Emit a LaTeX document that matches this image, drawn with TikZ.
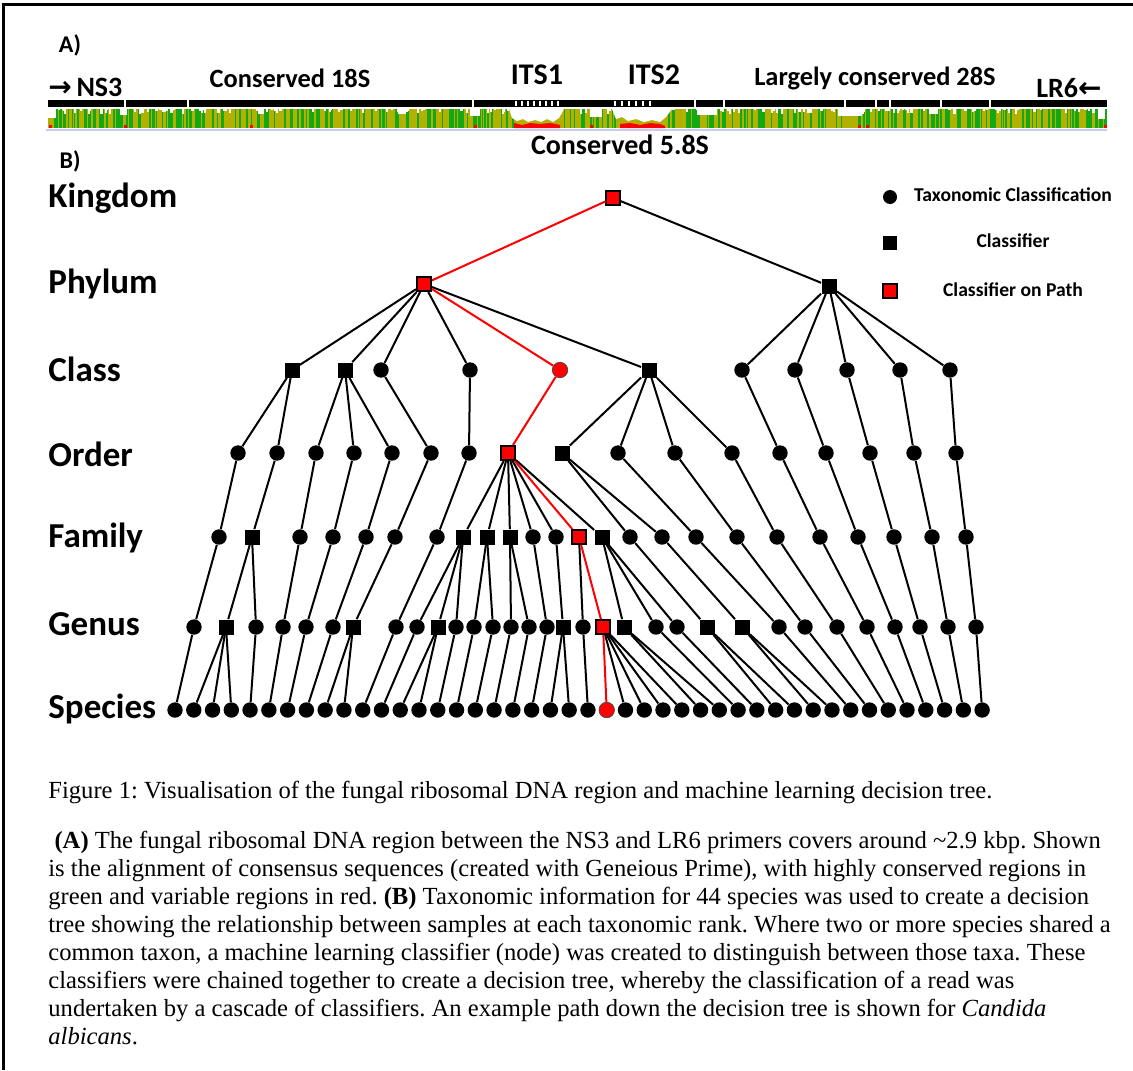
\documentclass[tikz,border=0pt]{standalone}
\usepackage{fontspec}
\setmainfont{Liberation Serif}
\newfontfamily\calib{Carlito}
\newfontfamily\arrowfont{DejaVu Sans}
\usepackage{tikz}
\usetikzlibrary{positioning}
\definecolor{pathred}{RGB}{255,0,0}
\definecolor{olivetrack}{RGB}{178,176,0}
\definecolor{greentrack}{RGB}{20,168,20}
\definecolor{trackline}{RGB}{200,205,240}

\begin{document}
\begin{tikzpicture}[x=0.5pt,y=-0.5pt,every node/.style={inner sep=0pt},
          txn/.style={circle,fill=black,minimum size=7.7pt},
          txnred/.style={circle,draw=black!70,line width=0.4pt,fill=pathred,minimum size=7.7pt},
          cls/.style={rectangle,fill=black,minimum size=7.5pt},
          clsred/.style={rectangle,draw=black,line width=0.8pt,fill=pathred,minimum size=7.2pt},
          edge/.style={line width=1pt,black},
          redge/.style={line width=1pt,pathred},
          rank/.style={anchor=west,font=\calib\bfseries\fontsize{17.5}{20}\selectfont},
          region/.style={font=\calib\bfseries\fontsize{13.2}{15}\selectfont},
          legend/.style={font=\calib\bfseries\fontsize{9.8}{11}\selectfont},
          caption/.style={font=\fontsize{12.3}{14}\selectfont\frenchspacing}]
        \useasboundingbox (0,0) rectangle (1133,1070);
        \draw[line width=1.5pt] (3,1070) -- (3,5) -- (1133,5);

        % A) alignment of the ribosomal region
        \node[region,font=\calib\bfseries\fontsize{12}{14}\selectfont] (lblA) at (70,45) {A)};
        \node[region,anchor=west,font=\calib\bfseries\fontsize{14}{16}\selectfont] (ns3) at (48,87) {{\arrowfont\bfseries →}\,NS3};
        \node[region,anchor=east,font=\calib\bfseries\fontsize{14}{16}\selectfont] (lr6) at (1102,88) {LR6{\arrowfont\bfseries ←}};
        \node[region] (r18) at (290,78) {Conserved 18S};
        \node[region,font=\calib\bfseries\fontsize{15}{17}\selectfont] (its1) at (537,75) {ITS1};
        \node[region,font=\calib\bfseries\fontsize{15}{17}\selectfont] (its2) at (654,75) {ITS2};
        \node[region] (r28) at (875,78) {Largely conserved 28S};
        \node[region,font=\calib\bfseries\fontsize{14}{16}\selectfont] (r58) at (620,145) {Conserved 5.8S};
        \fill[olivetrack] (48,109) rectangle (1107,128);
        \pgfmathsetseed{42}
        \foreach \i in {1,...,320}{
          \pgfmathsetmacro\xa{48+1057*rnd}
          \pgfmathsetmacro\wa{0.6+2.4*rnd}
          \fill[greentrack] (\xa,109) rectangle ({\xa+\wa},128);
        }
        \fill[olivetrack] (514,109) rectangle (562,128);
        \fill[olivetrack] (616,109) rectangle (668,128);
        \foreach \i in {1,...,170}{
          \pgfmathsetmacro\xa{48+1057*rnd}
          \pgfmathsetmacro\da{0.5+4.5*rnd}
          \fill[white] (\xa,109) rectangle ({\xa+2.2},{109+\da});
        }
        \foreach \xa/\wa/\da in {48/8/9,120/7/6,258/6/5,398/8/5,470/10/7,590/12/8,697/20/6,838/24/7,930/8/5,1098/7/10}
          \fill[white] (\xa,109) rectangle ({\xa+\wa},{109+\da});
        \fill[white] (509,109) -- (512,118) -- (517,121) -- (523,119) -- (528,122) -- (535,120) -- (541,122) -- (547,119) -- (553,122) -- (559,118) -- (564,109) -- cycle;
        \fill[white] (612,109) -- (616,119) -- (622,117) -- (628,121) -- (636,119) -- (644,122) -- (652,120) -- (660,122) -- (666,117) -- (672,109) -- cycle;
        \fill[pathred] (514,128) -- (514,123) -- (522,125) -- (530,123) -- (540,124) -- (550,123) -- (560,125) -- (560,128) -- cycle;
        \fill[pathred] (620,128) -- (620,124) -- (630,123) -- (640,125) -- (650,123) -- (660,124) -- (665,126) -- (665,128) -- cycle;
        \foreach \xa in {49,124,250,474,590,858,866,1104}
          \fill[pathred] (\xa,125) rectangle ({\xa+2.5},128);
        \draw[trackline,line width=0.6pt] (46,130) -- (1107,130);
        \fill[black] (48,100) rectangle (1107,107);
        \foreach \xa in {124,187,472,694,723,844,875,889,940,989}
          \fill[white] (\xa,100) rectangle ({\xa+1.8},107);
        \foreach \xa in {515,521,...,557}
          \fill[white] (\xa,101) rectangle ({\xa+1.8},106);
        \foreach \xa in {614,621,...,650}
          \fill[white] (\xa,101) rectangle ({\xa+1.8},106);
        \node[region,font=\calib\bfseries\fontsize{12}{14}\selectfont] (lblB) at (70,161) {B)};

        % B) decision tree
        \node[rank] (rk1) at (48,198) {Kingdom};
        \node[rank] (rk2) at (48,284) {Phylum};
        \node[rank] (rk3) at (48,369) {Class};
        \node[rank] (rk4) at (48,454) {Order};
        \node[rank] (rk5) at (48,538) {Family};
        \node[rank] (rk6) at (48,624) {Genus};
        \node[rank] (rk7) at (48,709) {Species};

        \node[clsred,minimum size=6.8pt] (k) at (613,198) {};
        \node[clsred] (p1) at (424,284) {};
        \node[cls] (p2) at (829,286) {};
        \foreach \n/\x/\t in {1/292/cls,2/345/cls,3/381/txn,4/470/txn,5/560/txnred,6/649/cls,
                              7/742/txn,8/795/txn,9/847/txn,10/900/txn,11/950/txn}
          \node[\t] (c\n) at (\x,370) {};
        \foreach \n/\x/\t in {1/238/txn,2/277/txn,3/316/txn,4/354/txn,5/392/txn,6/431/txn,7/469/txn,8/508/clsred,9/562/cls,
                              10/618/txn,11/675/txn,12/732/txn,13/780/txn,14/826/txn,15/870/txn,16/914/txn,17/956/txn}
          \node[\t] (o\n) at (\x,453) {};
        \foreach \n/\x/\t in {1/219/txn,2/252/cls,3/300/txn,4/333/txn,5/366/txn,6/395/txn,7/437/txn,8/463/cls,
                              9/487/cls,10/510/cls,11/533/txn,12/556/txn,13/579/clsred,14/602/cls,15/630/txn,16/662/txn,
                              17/696/txn,18/737/txn,19/777/txn,20/820/txn,21/858/txn,22/894/txn,23/932/txn,24/966/txn}
          \node[\t] (f\n) at (\x,537) {};
        \foreach \n/\x/\t in {1/194/txn,2/226/cls,3/256/txn,4/283/txn,5/306/txn,6/333/txn,7/353/cls,8/396/txn,
                              9/417/txn,10/438/cls,11/456/txn,12/474/txn,13/493/txn,14/511/txn,15/529/txn,16/547/txn,
                              17/563/cls,18/583/txn,19/603/clsred,20/624/cls,21/656/txn,22/677/txn,23/707/cls,24/742/cls,
                              25/779/txn,26/805/txn,27/837/txn,28/867/txn,29/895/txn,30/920/txn,31/948/txn,32/976/txn}
          \node[\t] (g\n) at (\x,627) {};
        \foreach \i in {0,...,43}
          \node[txn] (s\i) at ({175+\i*18.77},710) {};
        \node[txnred] (s23) at ({175+23*18.77},710) {};

        \foreach \a/\b in {k/p2,p1/c1,p1/c2,p1/c3,p1/c4,p1/c6,p2/c7,p2/c8,p2/c9,p2/c10,p2/c11,
                           c1/o1,c1/o2,c2/o3,c2/o4,c2/o5,c3/o6,c4/o7,c6/o9,c6/o10,c6/o11,c6/o12,
                           c7/o13,c8/o14,c9/o15,c10/o16,c11/o17,
                           o1/f1,o2/f2,o3/f3,o4/f4,o5/f5,o6/f6,o7/f7,o8/f8,o8/f9,o8/f10,o8/f11,o8/f12,o8/f14,
                           o9/f15,o9/f16,o10/f17,o11/f18,o12/f19,o13/f20,o14/f21,o15/f22,o16/f23,o17/f24,
                           f1/g1,f2/g2,f2/g3,f3/g4,f4/g5,f5/g6,f6/g7,f7/g8,f8/g9,f8/g10,f8/g11,f9/g12,f9/g13,
                           f10/g14,f10/g15,f11/g16,f12/g17,f13/g18,f14/g20,f14/g21,f14/g22,f15/g23,f16/g24,
                           f17/g25,f18/g26,f19/g27,f20/g28,f21/g29,f22/g30,f23/g31,f24/g32,
                           g1/s0,g2/s1,g2/s2,g2/s3,g3/s4,g4/s5,g5/s6,g6/s7,g7/s8,g7/s9,g8/s10,g9/s11,
                           g10/s12,g10/s13,g11/s14,g12/s15,g13/s16,g14/s17,g15/s18,g16/s19,g17/s20,g17/s21,
                           g18/s22,g19/s24,g19/s25,g19/s26,g19/s27,g20/s28,g20/s29,g21/s30,g22/s31,
                           g23/s32,g23/s33,g24/s34,g24/s35,g25/s36,g26/s37,g27/s38,g28/s39,g29/s40,
                           g30/s41,g31/s42,g32/s43}
          \draw[edge] (\a)--(\b);
        \foreach \a/\b in {k/p1,p1/c5,c5/o8,o8/f13,f13/g19,g19/s23}
          \draw[redge] (\a)--(\b);

        % legend
        \node[txn,minimum size=7pt] (lgt) at (890,197) {};
        \node[cls,minimum size=7pt] (lgc) at (890,243) {};
        \node[clsred] (lgr) at (890,291) {};
        \node[legend] (lgt-txt) at (1013,195) {Taxonomic Classification};
        \node[legend] (lgc-txt) at (1013,241) {Classifier};
        \node[legend] (lgr-txt) at (1013,290) {Classifier on Path};

        % caption
        \node[caption,anchor=west] (cap1) at (48,792) {Figure 1: Visualisation of the fungal ribosomal DNA region and machine learning decision tree.};
        \node[caption,anchor=north west,align=left] (cap2) at (48,831) {
          \ \textbf{(A)} The fungal ribosomal DNA region between the NS3 and LR6 primers covers around \textasciitilde2.9 kbp. Shown\\
          is the alignment of consensus sequences (created with Geneious Prime), with highly conserved regions in\\
          green and variable regions in red. \textbf{(B)} Taxonomic information for 44 species was used to create a decision\\
          tree showing the relationship between samples at each taxonomic rank. Where two or more species shared a\\
          common taxon, a machine learning classifier (node) was created to distinguish between those taxa. These\\
          classifiers were chained together to create a decision tree, whereby the classification of a read was\\
          undertaken by a cascade of classifiers. An example path down the decision tree is shown for \textit{Candida}\\
          \textit{albicans}.};
      \end{tikzpicture}
\end{document}
